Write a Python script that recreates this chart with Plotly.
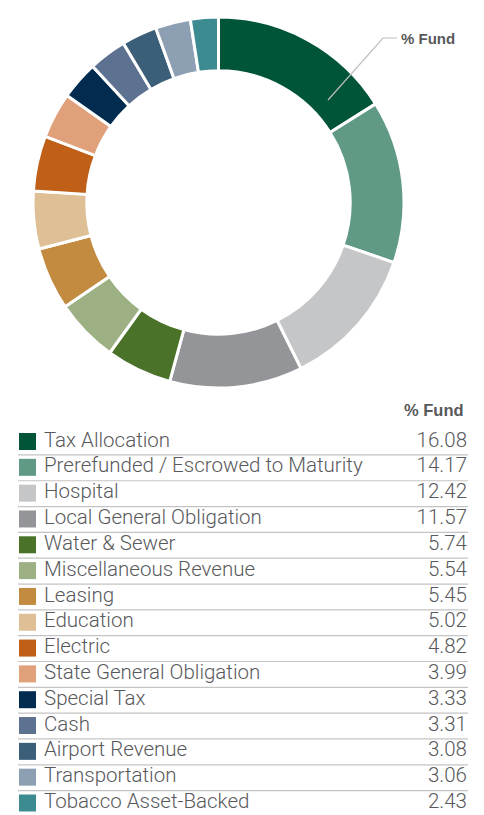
import plotly.graph_objects as go

categories = [
    "Tax Allocation",
    "Prerefunded / Escrowed to Maturity",
    "Hospital",
    "Local General Obligation",
    "Water & Sewer",
    "Miscellaneous Revenue",
    "Leasing",
    "Education",
    "Electric",
    "State General Obligation",
    "Special Tax",
    "Cash",
    "Airport Revenue",
    "Transportation",
    "Tobacco Asset-Backed",
]
values = [16.08, 14.17, 12.42, 11.57, 5.74, 5.54, 5.45, 5.02, 4.82, 3.99, 3.33, 3.31, 3.08, 3.06, 2.43]
colors = [
    "#005538", "#609a85", "#c5c6c8", "#939598", "#4b7229",
    "#9cb084", "#c28b3f", "#dfc096", "#bf5f18", "#dfa07a",
    "#022c4f", "#5d7290", "#3b5f78", "#8c9fb3", "#3b8b90",
]
value_labels = [f"{v:.2f}" for v in values]
header = "% Fund"

W, H = 484, 815
OFF = 8  # page body margin offset


def px(x):
    return (x - OFF) / W


def py(y):
    return 1 - (y - OFF) / H


n = len(categories)
rows = list(range(n))

text_color = "#58595b"
label_font = dict(family="Roboto, Liberation Sans, sans-serif", size=20.5, color=text_color, weight=300)
bold_font = dict(family="Liberation Sans, Arial, sans-serif", size=16.5,
                 color=text_color, weight="bold")

fig = go.Figure()
fig.add_trace(go.Pie(
    labels=categories, values=values,
    marker=dict(colors=colors, line=dict(color="white", width=3)),
    hole=0.71, sort=False, direction="clockwise", rotation=0,
    textinfo="none", hoverinfo="label+value",
    domain=dict(x=[px(33), px(404)], y=[py(388), py(17)]),
    showlegend=False,
))
fig.add_trace(go.Scatter(
    x=[9.5] * n, y=rows, mode="markers",
    marker=dict(symbol="square", size=17, color=colors, line=dict(width=0)),
    showlegend=False, hoverinfo="skip", cliponaxis=False,
))
fig.add_trace(go.Scatter(
    x=[26] * n, y=rows, mode="text", text=categories,
    textposition="middle right", textfont=label_font,
    showlegend=False, hoverinfo="skip", cliponaxis=False,
))
fig.add_trace(go.Scatter(
    x=[449] * n, y=rows, mode="text", text=value_labels,
    textposition="middle left", textfont=label_font,
    showlegend=False, hoverinfo="skip", cliponaxis=False,
))

separators = [
    dict(type="line", xref="x domain", yref="y", x0=0, x1=1, y0=i + 0.52, y1=i + 0.52,
         line=dict(color="#c4c4c4", width=1.2), layer="below")
    for i in range(n - 1)
]
leader = dict(type="path", xref="paper", yref="paper",
              path=f"M {px(328)} {py(100)} L {px(383)} {py(38)} L {px(397)} {py(38)}",
              line=dict(color="#bdbdbd", width=1.2))

fig.update_layout(
    width=W, height=H, autosize=False,
    margin=dict(l=0, r=0, t=0, b=0),
    paper_bgcolor="white", plot_bgcolor="white",
    xaxis=dict(domain=[px(18), px(468)], range=[0, 450], visible=False,
               showgrid=False, zeroline=False, showline=False, fixedrange=True),
    yaxis=dict(domain=[py(815.9), py(428.6)], range=[n - 0.5, -0.5], visible=False,
               showgrid=False, zeroline=False, showline=False, fixedrange=True),
    shapes=separators + [leader],
    annotations=[
        dict(text=header, x=px(466), y=py(410), xref="paper", yref="paper",
             xanchor="right", yanchor="middle", showarrow=False, font=bold_font),
        dict(text=header, x=px(399), y=py(38.5), xref="paper", yref="paper",
             xanchor="left", yanchor="middle", showarrow=False,
             font=dict(bold_font, size=15)),
    ],
)

fig.write_html("out.html", config={"displayModeBar": False})
